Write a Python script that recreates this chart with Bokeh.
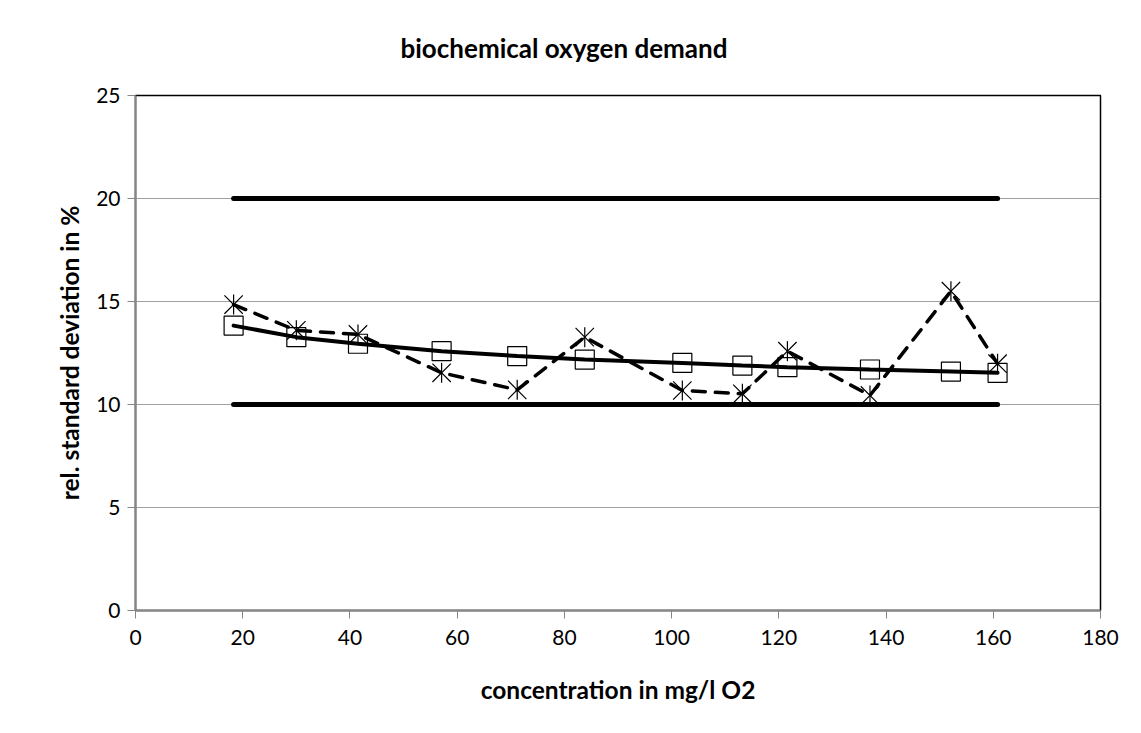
from bokeh.plotting import figure
from bokeh.models import Title, Range1d, FixedTicker
from bokeh.embed import file_html
from bokeh.resources import INLINE
import numpy as np

# data
conc = [18.3, 30.0, 41.5, 57.1, 71.2, 83.8, 102.0, 113.2, 121.6, 137.0, 152.1, 160.8]
rsd_measured = [14.85, 13.6, 13.4, 11.54, 10.71, 13.27, 10.68, 10.52, 12.59, 10.44, 15.5, 11.98]
rsd_fit = [13.83, 13.27, 12.95, 12.59, 12.35, 12.18, 12.02, 11.89, 11.81, 11.7, 11.6, 11.54]
limit_x = [18.3, 160.8]
upper_limit = [20, 20]
lower_limit = [10, 10]
x_ticks = [0, 20, 40, 60, 80, 100, 120, 140, 160, 180]
y_ticks = [0, 5, 10, 15, 20, 25]

FONT = "Lato"

p = figure(width=1133, height=725, output_backend="svg", toolbar_location=None,
           x_range=Range1d(0, 180), y_range=Range1d(0, 25),
           min_border_left=135, min_border_right=33, min_border_top=95, min_border_bottom=115)

title = Title(text="biochemical oxygen demand", align="left", offset=265,
              text_font=FONT, text_font_size="26px", text_font_style="bold",
              text_color="black", vertical_align="top", standoff=60)
p.add_layout(title, "above")

p.outline_line_color = "black"
p.outline_line_width = 1.5
p.background_fill_color = "white"
p.border_fill_color = "white"

p.xgrid.visible = False
p.ygrid.ticker = FixedTicker(ticks=y_ticks)
p.ygrid.grid_line_color = "#a0a0a0"
p.ygrid.grid_line_width = 1

for ax in (p.xaxis[0], p.yaxis[0]):
    ax.axis_line_color = "#868686"
    ax.axis_line_width = 2
    ax.major_tick_line_color = "#868686"
    ax.major_tick_out = 8
    ax.major_tick_in = 0
    ax.minor_tick_line_color = None
    ax.major_label_text_font = FONT
    ax.major_label_text_font_size = "21px"
    ax.major_label_text_color = "black"
    ax.axis_label_text_font = FONT
    ax.axis_label_text_font_size = "24.5px"
    ax.axis_label_text_font_style = "bold"
    ax.axis_label_text_color = "black"

p.xaxis.ticker = FixedTicker(ticks=x_ticks)
p.yaxis.ticker = FixedTicker(ticks=y_ticks)
p.xaxis.axis_label = "concentration in mg/l O2"
p.yaxis.axis_label = "rel. standard deviation in %"
p.xaxis.major_label_standoff = 11
p.yaxis.major_label_standoff = 7
p.xaxis.axis_label_standoff = 27
p.yaxis.axis_label_standoff = 9

# limit lines
p.line(limit_x, upper_limit, line_color="black", line_width=5, line_cap="round")
p.line(limit_x, lower_limit, line_color="black", line_width=5, line_cap="round")

# fit series: squares + solid line
p.scatter(conc, rsd_fit, marker="square", size=19, fill_color="white",
          line_color="black", line_width=1.2)
p.line(conc, rsd_fit, line_color="black", line_width=4, line_cap="round")

# measured series: dashed line + star markers
p.line(conc, rsd_measured, line_color="black", line_width=3.5, line_dash="13 10",
       line_cap="round")
p.scatter(conc, rsd_measured, marker="x", size=26, line_color="black", line_width=1.2)
p.scatter(conc, rsd_measured, marker="dash", angle=np.pi / 2, size=20,
          line_color="black", line_width=1.2)

open("out.html", "w").write(file_html(p, INLINE))
